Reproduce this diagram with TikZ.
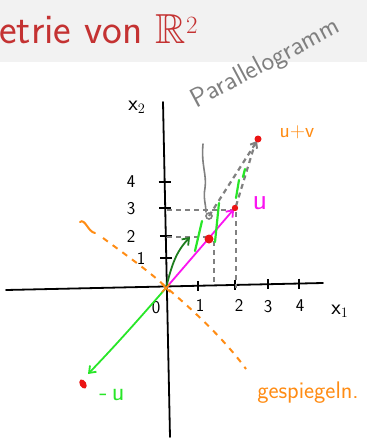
\documentclass[tikz,border=0pt]{standalone}
\usepackage{amssymb}
\usetikzlibrary{arrows.meta,calc}
\definecolor{hdrred}{RGB}{196,50,50}
\definecolor{hdrgray}{RGB}{242,242,242}
\definecolor{pengray}{RGB}{128,128,128}
\definecolor{penmag}{RGB}{250,20,240}
\definecolor{penlgreen}{RGB}{40,230,40}
\definecolor{pendgreen}{RGB}{30,125,30}
\definecolor{penorange}{RGB}{255,140,20}
\definecolor{penred}{RGB}{235,20,20}
\tikzset{
  axisline/.style={line width=1.8pt, black, line cap=round},
  tickline/.style={line width=1.5pt, black},
  ticklabel/.style={font=\fontsize{18}{20}\sffamily, inner sep=0pt},
  vecline/.style={line width=1.8pt, line cap=round, -{Straight Barb[length=6pt,width=9pt,line width=1.8pt]}},
  helpline/.style={line width=2.2pt, pengray, dash pattern=on 5pt off 4pt},
  marker/.style={line width=2.2pt, penlgreen, line cap=round},
  dotr/.style={fill=penred},
  hand/.style={font=\fontsize{20}{22}\sffamily, inner sep=0pt}
}
\begin{document}
\begin{tikzpicture}[x=1pt,y=-1pt]
\useasboundingbox (0,0) rectangle (367,439);
% header band
\fill[hdrgray] (0,0) rectangle (367,62);
\node[anchor=base west, text=hdrred, font=\fontsize{42}{46}\sffamily, inner sep=0pt] (title) at (-1,43) {etrie von $\mathbb{R}^2$};

% axes
\coordinate (xl) at (6,290);
\coordinate (xr) at (323,283);
\coordinate (yt) at (163,102);
\coordinate (yb) at (170,437);
\coordinate (O) at (166,288);
\draw[axisline] (xl) -- (xr);
\draw[axisline] (yt) -- (yb);

% ticks on x1
\foreach \x/\y in {198/285.8,235/285,268/284.2,299/283.5}{
  \draw[tickline] (\x,\y-5) -- (\x,\y+5);
}
% ticks on x2
\foreach \x/\y in {166.3/258,165.8/236,165.2/208,164.7/182}{
  \draw[tickline] (\x-6,\y) -- (\x+6,\y);
}
% tick labels
\node[ticklabel] (l0) at (156,308) {0};
\node[ticklabel] (l1) at (200,305) {1};
\node[ticklabel] (l2) at (239,305) {2};
\node[ticklabel] (l3) at (268,307) {3};
\node[ticklabel] (l4) at (300,306) {4};
\node[ticklabel, font=\fontsize{22}{24}\sffamily] (lx1) at (340,311) {x$_{1}$};
\node[ticklabel] (m1) at (141,258) {1};
\node[ticklabel] (m2) at (131,236) {2};
\node[ticklabel] (m3) at (131,209) {3};
\node[ticklabel] (m4) at (131,182) {4};
\node[ticklabel, font=\fontsize{22}{24}\sffamily] (lx2) at (137,107) {x$_{2}$};

% handwritten label
\node[hand, text=pengray, rotate=28, font=\fontsize{27}{29}\sffamily] (para) at (266,64) {Parallelogramm};

% gray helper lines
\coordinate (U) at (234,209);
\coordinate (UV) at (257,141);
\coordinate (C) at (209,216);
\draw[helpline] (167,210) -- (236,210);
\draw[helpline] (167,237) -- (211,237);
\draw[helpline] (214,241) -- (214,284);
\draw[helpline] (236,212) -- (236,288);
\draw[helpline] (C) -- (UV);
\draw[helpline] (236,206) -- (254,147);
\draw[line width=2pt, pengray, -{Straight Barb[length=5pt,width=8pt,line width=2pt]}] ($(UV)+(-3,5)$) -- (UV);
\draw[line width=1.6pt, pengray, line cap=round] (203,144) .. controls (201,165) and (207,175) .. (205,188) .. controls (203,198) and (206,205) .. (206,212);
\draw[line width=1.6pt, pengray] (C) circle (3pt);

% orange mirror line
\draw[line width=2pt, penorange, line cap=round] (80,222) .. controls (85,218) and (88,232) .. (95,233);
\draw[line width=2pt, penorange, dash pattern=on 6pt off 6pt] (103,238) .. controls (130,258) and (150,272) .. (167,288) .. controls (195,312) and (225,340) .. (246,369);

% vectors
\draw[vecline, penmag] (O) -- (U);
\draw[vecline, pendgreen] (O) .. controls (172,264) and (176,252) .. (190,237);
\coordinate (NU) at (88,374);
\draw[vecline, penlgreen] (O) .. controls (145,312) and (118,343) .. (NU);
\draw[line width=1.6pt, penorange] (162,284) -- (170,292) (162,292) -- (170,284);

% parallel marks
\draw[marker] (195,251) -- (202,221);
\draw[marker] (215,242) -- (219,203);
\draw[marker] (236,198) -- (239,180);
\draw[marker] (243,177) -- (245,169);

% dots
\fill[dotr] (U) ++(1,-1) circle (3.2pt);
\fill[dotr] (209,239) circle (4.5pt);
\fill[dotr] (UV) ++(1,-2) circle (3.5pt);
\fill[dotr, rotate around={-60:(83,384)}] (83,384) ellipse (5pt and 3.2pt);

% labels
\node[hand, text=penorange, font=\fontsize{21}{23}\sffamily] (luv) at (297,132) {u+v};
\node[hand, text=penmag, font=\fontsize{30}{32}\sffamily] (lu) at (260,203) {u};
\node[hand, text=penlgreen, font=\fontsize{26}{28}\sffamily] (lnu) at (112,395) {-\,u};
\node[hand, text=penorange, font=\fontsize{24}{26}\sffamily] (lg) at (308,393) {gespiegeln.};
\end{tikzpicture}
\end{document}
